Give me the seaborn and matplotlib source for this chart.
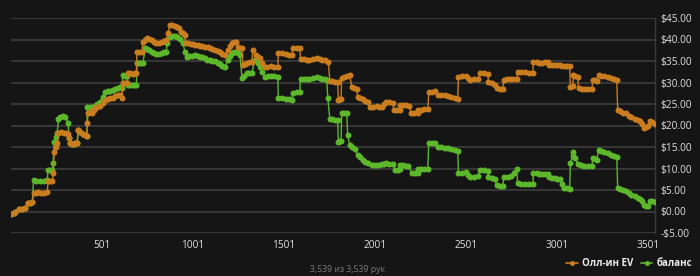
import matplotlib
matplotlib.use("Agg")
import matplotlib.pyplot as plt
import seaborn as sns
import pandas as pd
from matplotlib.lines import Line2D

# ---- data ----
ev_hands = [1, 15, 25, 45, 60, 79, 95, 108, 118, 125, 140, 150, 165, 180, 200, 205, 218, 228, 233, 238, 248, 255,
            262, 276, 290, 303, 315, 320, 326, 335, 345, 355, 365, 370, 382, 395, 407, 418, 420, 425, 435, 445, 455,
            463, 476, 490, 504, 518, 532, 546, 560, 573, 587, 600, 611, 615, 627, 640, 644, 657, 670, 682, 690, 693,
            705, 720, 726, 738, 750, 762, 775, 787, 800, 815, 830, 842, 855, 864, 875, 887, 900, 912, 925, 935, 945,
            955, 960, 975, 990, 1000, 1012, 1026, 1040, 1053, 1067, 1081, 1095, 1108, 1122, 1136, 1150, 1163, 1177,
            1193, 1205, 1215, 1225, 1235, 1248, 1260, 1270, 1275, 1288, 1300, 1312, 1325, 1330, 1345, 1357, 1368,
            1382, 1396, 1410, 1430, 1448, 1467, 1470, 1490, 1510, 1527, 1544, 1550, 1570, 1588, 1592, 1610, 1625,
            1640, 1660, 1680, 1700, 1712, 1725, 1745, 1753, 1765, 1780, 1796, 1800, 1810, 1815, 1818, 1832, 1846,
            1862, 1873, 1887, 1900, 1906, 1920, 1934, 1948, 1961, 1975, 1992, 2010, 2024, 2038, 2050, 2060, 2080,
            2099, 2105, 2120, 2137, 2140, 2155, 2172, 2190, 2200, 2218, 2236, 2240, 2255, 2273, 2291, 2297, 2313,
            2330, 2346, 2365, 2385, 2400, 2420, 2440, 2456, 2460, 2480, 2500, 2511, 2522, 2544, 2566, 2580, 2600,
            2621, 2625, 2642, 2659, 2670, 2688, 2703, 2710, 2727, 2745, 2762, 2780, 2785, 2805, 2825, 2847, 2868,
            2872, 2890, 2905, 2920, 2935, 2950, 2960, 2975, 2990, 3003, 3016, 3030, 3045, 3058, 3071, 3075, 3088,
            3092, 3103, 3115, 3120, 3138, 3155, 3172, 3192, 3200, 3210, 3220, 3230, 3245, 3262, 3280, 3300, 3315,
            3330, 3335, 3350, 3365, 3380, 3395, 3410, 3428, 3445, 3460, 3470, 3480, 3490, 3500, 3510, 3525, 3539]
ev_vals = [-0.5, -0.3, -0.1, 0.5, 0.6, 0.7, 1.9, 2.0, 2.2, 4.3, 4.4, 4.5, 4.4, 4.4, 4.5, 7.0, 7.1, 7.0, 8.9, 13.8,
           15.0, 15.9, 18.3, 18.4, 18.3, 18.2, 18.0, 17.1, 15.9, 15.7, 15.8, 15.9, 16.0, 19.0, 18.6, 18.0, 17.8, 17.6,
           20.6, 22.9, 23.1, 23.0, 23.6, 24.1, 24.3, 24.5, 25.2, 26.0, 26.2, 26.3, 26.5, 26.8, 27.0, 27.1, 26.4, 29.9,
           30.0, 29.9, 32.2, 32.1, 32.0, 32.1, 32.2, 37.1, 37.2, 37.1, 39.5, 40.0, 40.4, 40.1, 39.8, 39.5, 39.2, 39.3,
           39.5, 39.7, 40.0, 41.6, 43.4, 43.4, 43.2, 42.9, 42.6, 41.8, 41.4, 41.0, 39.2, 39.1, 39.0, 38.9, 38.8, 38.8,
           38.6, 38.5, 38.3, 38.2, 38.0, 37.8, 37.6, 37.3, 37.0, 36.7, 36.4, 37.6, 38.5, 39.2, 39.4, 39.5, 38.3, 38.1,
           38.0, 34.1, 34.3, 34.5, 34.7, 34.8, 37.6, 36.5, 36.0, 35.8, 34.6, 33.6, 33.7, 33.8, 33.7, 33.6, 36.9, 36.8,
           36.6, 36.5, 36.4, 38.1, 38.1, 38.0, 35.5, 35.4, 35.3, 35.3, 35.5, 35.6, 35.4, 35.3, 35.3, 34.8, 30.4,
           30.3, 30.2, 30.2, 26.0, 26.1, 26.2, 31.1, 31.3, 31.5, 31.8, 29.0, 28.8, 28.5, 26.6, 26.4, 26.2, 25.8, 25.5,
           24.3, 24.4, 24.5, 24.4, 24.3, 25.0, 25.5, 25.4, 25.3, 23.6, 23.6, 23.6, 24.8, 24.7, 24.7, 24.6, 22.9,
           22.8, 22.8, 23.6, 23.7, 23.8, 23.8, 27.8, 27.9, 28.0, 27.1, 27.0, 27.0, 26.8, 26.7, 26.5, 26.2, 31.3, 31.4,
           31.5, 31.0, 30.6, 30.7, 30.8, 32.2, 32.1, 32.0, 30.1, 29.8, 29.5, 28.7, 28.6, 28.5, 30.6, 30.7, 30.7, 30.8,
           30.8, 32.5, 32.4, 32.4, 32.3, 32.3, 34.8, 34.7, 34.6, 34.6, 34.7, 34.8, 34.1, 34.1, 34.0, 34.0, 34.0, 33.9,
           33.9, 33.8, 33.8, 29.0, 29.2, 31.8, 31.5, 31.2, 28.7, 28.6, 28.6, 28.5, 28.5, 30.6, 30.5, 30.4, 31.8,
           31.6, 31.4, 31.2, 31.0, 30.8, 30.5, 23.6, 23.3, 23.0, 22.8, 22.3, 21.9, 21.5, 21.2, 21.0, 20.3, 19.4, 19.6,
           20.0, 21.0, 20.7, 20.4]

bal_hands = [1, 15, 25, 45, 60, 79, 95, 108, 118, 125, 140, 160, 180, 200, 205, 218, 228, 233, 238, 248, 255, 262,
             271, 285, 300, 315, 320, 326, 335, 345, 355, 365, 370, 382, 395, 407, 418, 420, 435, 450, 463, 476, 490,
             504, 518, 532, 546, 560, 573, 587, 600, 611, 615, 627, 640, 644, 657, 670, 682, 690, 693, 705, 718, 726,
             740, 750, 760, 775, 787, 800, 815, 830, 842, 855, 858, 875, 887, 900, 915, 930, 946, 957, 968, 980, 995,
             1012, 1026, 1040, 1053, 1067, 1078, 1092, 1108, 1122, 1136, 1150, 1163, 1177, 1193, 1205, 1215, 1228,
             1240, 1250, 1259, 1270, 1283, 1297, 1311, 1325, 1341, 1357, 1368, 1382, 1396, 1413, 1430, 1448, 1467,
             1470, 1490, 1510, 1527, 1544, 1550, 1570, 1588, 1592, 1610, 1625, 1640, 1660, 1680, 1700, 1712, 1725,
             1736, 1742, 1753, 1765, 1780, 1796, 1800, 1810, 1815, 1818, 1832, 1846, 1851, 1862, 1876, 1890, 1906,
             1920, 1934, 1948, 1961, 1983, 1997, 2010, 2024, 2038, 2050, 2060, 2080, 2099, 2110, 2125, 2137, 2140,
             2155, 2170, 2185, 2203, 2220, 2236, 2240, 2255, 2273, 2291, 2297, 2313, 2330, 2346, 2365, 2385, 2400,
             2420, 2440, 2456, 2460, 2480, 2500, 2511, 2522, 2544, 2566, 2580, 2600, 2621, 2625, 2642, 2659, 2670,
             2688, 2703, 2710, 2730, 2750, 2765, 2780, 2785, 2805, 2825, 2847, 2868, 2872, 2890, 2905, 2920, 2935,
             2950, 2960, 2975, 2990, 3003, 3016, 3030, 3040, 3055, 3071, 3075, 3088, 3092, 3103, 3115, 3133, 3150,
             3170, 3192, 3200, 3210, 3220, 3230, 3245, 3262, 3280, 3300, 3315, 3330, 3335, 3350, 3365, 3380, 3395,
             3410, 3428, 3445, 3460, 3470, 3480, 3490, 3500, 3510, 3525, 3539]
bal_vals = [-0.5, -0.3, -0.1, 0.5, 0.6, 0.7, 1.9, 2.0, 2.2, 7.3, 7.2, 7.2, 7.2, 7.3, 9.6, 9.7, 9.6, 11.2, 16.2, 17.3,
            18.3, 21.5, 22.0, 22.1, 22.0, 20.6, 17.1, 15.9, 15.7, 15.8, 15.9, 16.0, 19.0, 18.6, 18.0, 17.8, 17.6, 24.3,
            24.4, 24.4, 24.5, 25.0, 25.5, 26.6, 27.8, 28.0, 28.1, 28.2, 28.6, 28.8, 29.0, 28.7, 31.8, 31.6, 31.5, 29.4,
            29.4, 29.4, 29.5, 29.4, 34.6, 34.6, 34.6, 34.6, 38.1, 37.8, 37.5, 37.1, 36.9, 36.6, 36.7, 36.8, 37.0, 37.2,
            39.2, 40.6, 40.7, 40.8, 40.5, 40.2, 39.2, 37.1, 36.0, 36.1, 36.2, 36.3, 36.1, 36.0, 35.9, 35.7, 35.3, 35.2,
            35.1, 35.0, 34.6, 34.2, 33.9, 33.6, 35.3, 36.2, 36.9, 37.0, 37.0, 36.8, 36.5, 31.1, 31.6, 32.2, 32.2,
            32.2, 35.3, 34.5, 33.6, 32.4, 31.3, 31.4, 31.5, 31.4, 31.3, 26.4, 26.3, 26.2, 26.1, 26.0, 27.6, 27.7, 27.8,
            30.9, 30.8, 30.8, 30.8, 31.0, 31.2, 31.0, 30.9, 30.9, 30.5, 26.4, 21.5, 21.4, 21.3, 21.2, 16.2, 16.3, 16.4,
            22.9, 22.9, 22.8, 17.8, 15.5, 15.0, 14.5, 13.1, 12.6, 12.0, 11.6, 11.2, 10.8, 10.8, 10.8, 10.9, 11.0, 11.1,
            11.2, 11.1, 11.0, 9.6, 9.7, 9.8, 10.8, 10.7, 10.6, 10.6, 8.9, 8.9, 9.0, 9.8, 9.9, 10.0, 10.0, 15.9, 16.0,
            16.0, 15.0, 14.9, 14.8, 14.7, 14.5, 14.3, 14.0, 8.9, 9.0, 9.2, 8.6, 8.0, 8.1, 8.2, 9.6, 9.6, 9.5, 8.0, 7.8,
            7.5, 6.1, 6.0, 6.0, 8.0, 8.1, 8.2, 9.0, 9.8, 6.6, 6.5, 6.4, 6.3, 6.3, 8.9, 8.9, 8.8, 8.8, 8.7, 8.7, 8.0,
            7.9, 7.7, 7.6, 7.5, 6.5, 5.5, 5.4, 5.3, 11.2, 13.0, 13.8, 12.4, 11.0, 10.8, 10.5, 10.5, 10.6, 12.4, 12.2,
            12.0, 14.3, 14.1, 13.8, 13.5, 13.2, 12.9, 12.6, 5.5, 5.2, 4.9, 4.7, 4.2, 3.8, 3.5, 3.2, 3.0, 2.5, 1.5, 1.3,
            1.2, 2.5, 2.4, 2.3]

ev_label = "Олл-ин EV"
bal_label = "баланс"
x_ticks = [501, 1001, 1501, 2001, 2501, 3001, 3501]
y_ticks = [-5, 0, 5, 10, 15, 20, 25, 30, 35, 40, 45]
footer = "3,539 из 3,539 рук"

# ---- style ----
BG = "#151515"
ORANGE = "#c97d1e"
GREEN = "#5cb82a"
sns.set_theme(style="dark")
plt.rcParams["font.family"] = ["Open Sans", "DejaVu Sans"]

ev_df = pd.DataFrame({"hand": ev_hands, "value": ev_vals})
bal_df = pd.DataFrame({"hand": bal_hands, "value": bal_vals})

fig = plt.figure(figsize=(7.0, 2.76), dpi=100, facecolor=BG)
ax = fig.add_axes([11 / 700, 1 - 233 / 276, (655 - 11) / 700, (233 - 18) / 276])
ax.set_facecolor(BG)

for y in y_ticks:
    ax.axhline(y, color="#3a3a3a", lw=1.3, zorder=0)

style = dict(marker="o", markersize=4.3, markeredgewidth=0, linewidth=1.0)
sns.lineplot(data=bal_df, x="hand", y="value", ax=ax, color=GREEN, **style, zorder=3)
sns.lineplot(data=ev_df, x="hand", y="value", ax=ax, color=ORANGE, **style, zorder=4)

ax.set_xlim(1, 3540)
ax.set_ylim(-5, 45)
ax.set_xlabel("")
ax.set_ylabel("")
ax.grid(False)
ax.yaxis.tick_right()
ax.set_yticks(y_ticks)
ax.set_yticklabels([("-$%.2f" % abs(v)) if v < 0 else ("$%.2f" % v) for v in y_ticks])
ax.set_xticks(x_ticks)
ax.set_xticklabels([str(t) for t in x_ticks])
ax.tick_params(axis="both", colors="#e0e0e0", labelsize=7.3, length=0, pad=4)
ax.tick_params(axis="x", pad=5)
for side in ["top", "left", "bottom"]:
    ax.spines[side].set_visible(False)
ax.spines["right"].set_color("#3a3a3a")
ax.spines["right"].set_linewidth(1.0)

fig.text(347 / 700, 1 - 270 / 276, footer, ha="center", va="center", fontsize=6.3, color="#7a7a7a")

handles = [
    Line2D([0], [0], color=ORANGE, marker="o", markersize=3.6, markeredgewidth=0, lw=1.2),
    Line2D([0], [0], color=GREEN, marker="o", markersize=3.6, markeredgewidth=0, lw=1.2),
]
leg = fig.legend(handles, [ev_label, bal_label], loc="center right", bbox_to_anchor=(692 / 700, 1 - 264 / 276),
                 ncol=2, frameon=False, fontsize=7, handlelength=1.2, handletextpad=0.4, columnspacing=0.8,
                 borderaxespad=0, borderpad=0)
for t in leg.get_texts():
    t.set_color("#ececec")
    t.set_fontweight("bold")

fig.savefig("out.png", dpi=100, facecolor=BG)
